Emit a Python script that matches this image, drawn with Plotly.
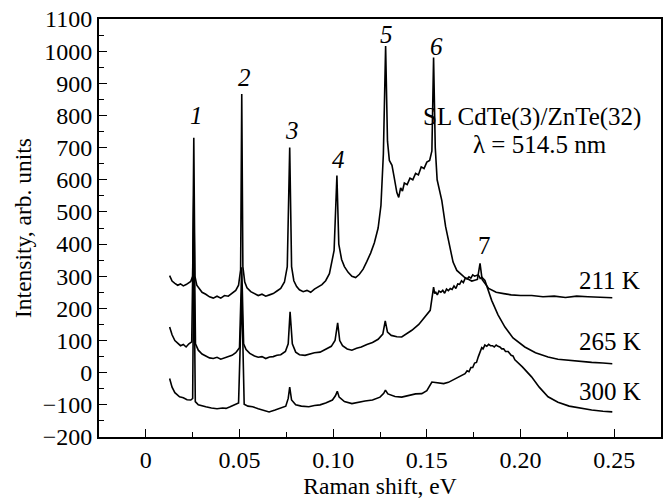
import plotly.graph_objects as go

# ---- data (Raman shift in eV, intensity in arb. units) ----
x_211 = [0.0127, 0.0140, 0.0155, 0.0170, 0.0185, 0.0200, 0.0215, 0.0228, 0.0240, 0.0250,
         0.0256, 0.0262, 0.0272, 0.0285, 0.0300, 0.0320, 0.0340, 0.0360, 0.0380, 0.0400,
         0.0420, 0.0440, 0.0460, 0.0480, 0.0495, 0.0506, 0.0512, 0.0518, 0.0528, 0.0540,
         0.0560, 0.0580, 0.0600, 0.0620, 0.0640, 0.0660, 0.0680, 0.0700, 0.0720, 0.0740,
         0.0755, 0.0768, 0.0778, 0.0790, 0.0805, 0.0820, 0.0840, 0.0860, 0.0880, 0.0900,
         0.0920, 0.0940, 0.0960, 0.0980, 0.1005, 0.1020, 0.1030, 0.1045, 0.1060, 0.1080,
         0.1100, 0.1120, 0.1140, 0.1160, 0.1180, 0.1200, 0.1220, 0.1240, 0.1255, 0.1268,
         0.1280, 0.1290, 0.1300, 0.1314, 0.1325, 0.1340, 0.1350, 0.1360, 0.1370, 0.1380,
         0.1395, 0.1410, 0.1425, 0.1440, 0.1455, 0.1470, 0.1485, 0.1500, 0.1515, 0.1527,
         0.1536, 0.1545, 0.1555, 0.1580, 0.1600, 0.1616, 0.1640, 0.1660, 0.1700, 0.1740,
         0.1770, 0.1784, 0.1795, 0.1830, 0.1870, 0.1910, 0.1950, 0.2000, 0.2060, 0.2120,
         0.2180, 0.2240, 0.2300, 0.2360, 0.2420, 0.2490]
y_211 = [302, 285, 278, 272, 276, 270, 274, 280, 284, 300,
         731, 300, 272, 262, 250, 244, 236, 232, 238, 232,
         240, 238, 246, 256, 272, 320, 867, 330, 282, 264,
         252, 246, 240, 244, 238, 242, 246, 254, 262, 282,
         330, 700, 330, 286, 268, 258, 252, 256, 250, 260,
         266, 274, 286, 308, 380, 613, 400, 352, 330, 312,
         300, 296, 306, 322, 346, 372, 404, 450, 520, 680,
         1016, 720, 660, 645, 610, 560, 545, 575, 565, 590,
         585, 605, 600, 620, 615, 640, 635, 655, 660, 690,
         980, 700, 600, 535, 455, 410, 344, 318, 297, 285,
         290, 340, 290, 262, 250, 246, 242, 240, 240, 236,
         238, 234, 238, 236, 234, 233]

x_265 = [0.0127, 0.0140, 0.0155, 0.0170, 0.0185, 0.0200, 0.0215, 0.0230, 0.0245, 0.0256,
         0.0265, 0.0280, 0.0300, 0.0320, 0.0340, 0.0360, 0.0380, 0.0400, 0.0420, 0.0440,
         0.0460, 0.0480, 0.0500, 0.0512, 0.0522, 0.0535, 0.0555, 0.0580, 0.0600, 0.0620,
         0.0640, 0.0660, 0.0680, 0.0700, 0.0720, 0.0745, 0.0760, 0.0770, 0.0782, 0.0800,
         0.0820, 0.0850, 0.0870, 0.0900, 0.0930, 0.0960, 0.0990, 0.1010, 0.1024, 0.1035,
         0.1050, 0.1075, 0.1100, 0.1125, 0.1150, 0.1180, 0.1210, 0.1240, 0.1265, 0.1278,
         0.1290, 0.1310, 0.1340, 0.1366, 0.1390, 0.1420, 0.1457, 0.1490, 0.1518, 0.1536,
         0.1542, 0.1548, 0.1556, 0.1565, 0.1575, 0.1585, 0.1595, 0.1605, 0.1615, 0.1625,
         0.1635, 0.1645, 0.1655, 0.1665, 0.1675, 0.1685, 0.1695, 0.1705, 0.1715, 0.1725,
         0.1735, 0.1745, 0.1755, 0.1765, 0.1775, 0.1785, 0.1795, 0.1810, 0.1846,
         0.1880, 0.1917, 0.1960, 0.2023, 0.2080, 0.2147, 0.2200, 0.2260, 0.2320, 0.2380,
         0.2440, 0.2490]
y_265 = [142, 118, 100, 92, 84, 88, 80, 90, 96, 550,
         90, 70, 58, 52, 46, 44, 48, 42, 46, 48,
         54, 62, 78, 328, 90, 72, 60, 52, 48, 50,
         44, 49, 50, 54, 56, 66, 90, 189, 90, 64,
         56, 54, 58, 62, 64, 72, 82, 100, 155, 100,
         84, 74, 70, 76, 80, 88, 94, 104, 120, 161,
         126, 116, 112, 111, 120, 132, 150, 172, 194, 266,
         246, 250, 242, 254, 250, 256, 247, 260, 255, 262,
         259, 270, 262, 276, 275, 286, 280, 294, 291, 298,
         294, 304, 300, 302, 304, 293, 296, 287, 225,
         180, 142, 108, 80, 62, 49, 42, 38, 34, 32,
         30, 28]

x_300 = [0.0127, 0.0140, 0.0155, 0.0170, 0.0180, 0.0200, 0.0220, 0.0240, 0.0250, 0.0256,
         0.0264, 0.0280, 0.0300, 0.0320, 0.0350, 0.0380, 0.0410, 0.0428, 0.0450, 0.0475,
         0.0495, 0.0512, 0.0525, 0.0545, 0.0570, 0.0600, 0.0630, 0.0658, 0.0690, 0.0720,
         0.0747, 0.0760, 0.0768, 0.0778, 0.0800, 0.0830, 0.0870, 0.0900, 0.0930, 0.0960,
         0.0996, 0.1012, 0.1022, 0.1032, 0.1060, 0.1100, 0.1137, 0.1170, 0.1210, 0.1250,
         0.1270, 0.1279, 0.1292, 0.1330, 0.1366, 0.1400, 0.1440, 0.1473, 0.1500, 0.1527,
         0.1560, 0.1590, 0.1615, 0.1640, 0.1668, 0.1704, 0.1715, 0.1725, 0.1735, 0.1745,
         0.1755, 0.1765, 0.1775, 0.1785, 0.1793, 0.1800, 0.1810, 0.1820, 0.1830, 0.1840,
         0.1850, 0.1860, 0.1870, 0.1880, 0.1890, 0.1900, 0.1910, 0.1920, 0.1934, 0.1950,
         0.1960, 0.1970, 0.2010, 0.2059, 0.2100, 0.2147, 0.2200,
         0.2260, 0.2324, 0.2380, 0.2440, 0.2490]
y_300 = [-18, -45, -62, -70, -75, -78, -84, -85, -80, 400,
         -90, -100, -104, -106, -110, -112, -110, -111, -106, -100,
         -94, 250, -98, -104, -106, -112, -118, -122, -116, -110,
         -104, -80, -45, -85, -100, -104, -106, -102, -100, -94,
         -85, -72, -58, -76, -90, -96, -91, -88, -85, -76,
         -64, -54, -66, -74, -76, -72, -66, -65, -56, -29,
         -32, -34, -30, -22, -13, -3, 6, 3, 16, 16,
         30, 32, 50, 64, 78, 74, 86, 82, 88, 84,
         84, 80, 86, 82, 80, 74, 74, 66, 66, 54,
         52, 40, 18, -13, -45, -75, -92,
         -104, -111, -116, -120, -122]

peak_labels = ["1", "2", "3", "4", "5", "6", "7"]
peak_label_x = [0.0268, 0.0525, 0.0782, 0.1030, 0.1287, 0.1553, 0.1810]
peak_label_y = [799, 918, 752, 664, 1052, 1016, 395]

temp_labels = ["211 K", "265 K", "300 K"]
temp_label_y = [287, 96, -60]
temp_label_x = 0.2484

x_tickvals = [0, 0.05, 0.10, 0.15, 0.20, 0.25]
x_ticktext = ["0", "0.05", "0.10", "0.15", "0.20", "0.25"]
y_tickvals = [-200, -100, 0, 100, 200, 300, 400, 500, 600, 700, 800, 900, 1000, 1100]
y_ticktext = ["\u2212200", "\u2212100", "0", "100", "200", "300", "400", "500", "600",
              "700", "800", "900", "1000", "1100"]

FONT = "Liberation Serif"
ANN = 25

fig = go.Figure()
for xs, ys in [(x_300, y_300), (x_265, y_265), (x_211, y_211)]:
    fig.add_trace(go.Scatter(x=xs, y=ys, mode="lines",
                             line=dict(color="black", width=1.6),
                             showlegend=False, hoverinfo="skip"))

annotations = []
for t, px, py in zip(peak_labels, peak_label_x, peak_label_y):
    txt = t if t == "7" else "<i>%s</i>" % t
    annotations.append(dict(x=px, y=py, text=txt, showarrow=False,
                            font=dict(family=FONT, size=ANN, color="black"),
                            xanchor="center", yanchor="middle"))
for t, py in zip(temp_labels, temp_label_y):
    annotations.append(dict(x=temp_label_x, y=py, text=t, showarrow=False,
                            font=dict(family=FONT, size=ANN, color="black"),
                            xanchor="left", yanchor="middle", xshift=-34))
annotations.append(dict(x=0.2059, y=794, text="SL CdTe(3)/ZnTe(32)", showarrow=False,
                        font=dict(family=FONT, size=ANN, color="black"),
                        xanchor="center", yanchor="middle"))
annotations.append(dict(x=0.2103, y=711, text="\u03bb = 514.5 nm", showarrow=False,
                        font=dict(family=FONT, size=ANN, color="black"),
                        xanchor="center", yanchor="middle"))

axis_common = dict(showline=True, linecolor="black", linewidth=2, mirror=True,
                   ticks="inside", tickcolor="black", tickwidth=1.2, ticklen=8,
                   showgrid=False, zeroline=False,
                   tickfont=dict(family=FONT, size=24, color="black"))

fig.update_layout(
    width=669, height=504,
    margin=dict(l=99, r=6, t=18, b=67),
    paper_bgcolor="white", plot_bgcolor="white",
    annotations=annotations,
    xaxis=dict(range=[-0.025, 0.275], tickvals=x_tickvals, ticktext=x_ticktext,
               minor=dict(dtick=0.025, tick0=0, ticks="inside", ticklen=5,
                          tickcolor="black", tickwidth=1.2),
               title=dict(text="Raman shift, eV", font=dict(family=FONT, size=23.5, color="black"),
                          standoff=4),
               **axis_common),
    yaxis=dict(range=[-200, 1100], tickvals=y_tickvals, ticktext=y_ticktext,
               minor=dict(dtick=50, tick0=0, ticks="inside", ticklen=5,
                          tickcolor="black", tickwidth=1.2),
               title=dict(text="Intensity, arb. units", font=dict(family=FONT, size=23.5, color="black"),
                          standoff=4),
               **axis_common),
)

fig.write_html("out.html")
